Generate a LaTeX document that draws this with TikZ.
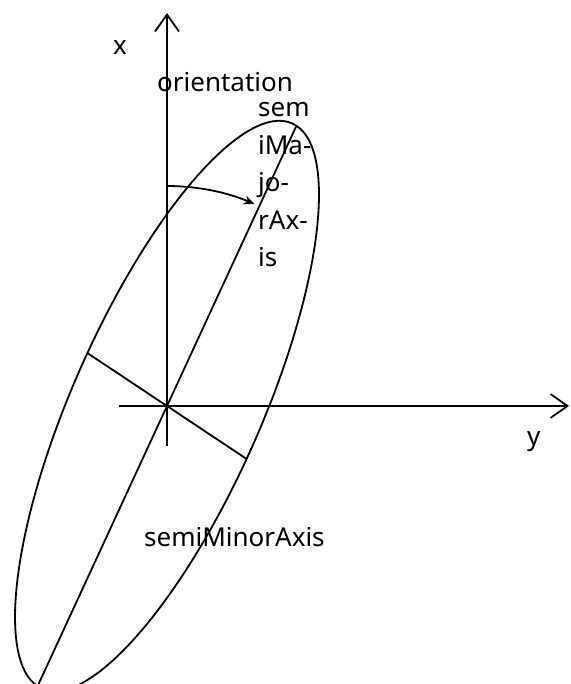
\documentclass[tikz,border=0pt]{standalone}
\usepackage{fontspec}
\setmainfont{Noto Sans}
\usetikzlibrary{arrows.meta,positioning}
\tikzset{
  axline/.style={line width=1.8pt, draw=black, -{Straight Barb[length=17pt,width=24pt,line width=1.8pt]}},
  ellline/.style={line width=1.8pt, draw=black},
  orarrow/.style={line width=1.8pt, draw=black, -{Stealth[length=11pt,width=9pt]}},
  axlabel/.style={inner sep=0pt, font=\fontsize{26}{37.5}\selectfont, anchor=base west},
}
\begin{document}
\begin{tikzpicture}[x=1pt, y=1pt]
  \useasboundingbox (0,0) rectangle (570,684);
  \coordinate (O) at (167,278);
  % axes
  \coordinate (xfoot) at (167,238);
  \coordinate (xtip) at (167,671);
  \coordinate (yfoot) at (119,278);
  \coordinate (ytip) at (569,278);
  \draw[axline] (xfoot) -- (xtip);
  \draw[axline] (yfoot) -- (ytip);
  % ellipse and its axes
  \begin{scope}[shift={(O)}, yscale=1.2, rotate=61]
    \draw[ellline] (0,0) ellipse [x radius=267, y radius=91];
    \coordinate (majA) at (267,0);
    \coordinate (majB) at (-267,0);
    \coordinate (minA) at (0,91);
    \coordinate (minB) at (0,-91);
  \end{scope}
  \draw[ellline] (majB) -- (majA);
  \draw[ellline] (minB) -- (minA);
  % orientation
  \coordinate (orstart) at (167,498);
  \draw[orarrow] (orstart) arc [start angle=90, end angle=66.5, radius=220];
  % labels
  \node (xlab) [axlabel] at (113,629) {x};
  \node (ylab) [axlabel] at (527,238) {y};
  \node (orlab) [axlabel] at (157,592) {orientation};
  \node (majlab) [axlabel, align=left] at (258,417) {sem\\iMa-\\jo-\\rAx-\\is};
  \node (minlab) [axlabel] at (144,137) {semiMinorAxis};
\end{tikzpicture}
\end{document}
